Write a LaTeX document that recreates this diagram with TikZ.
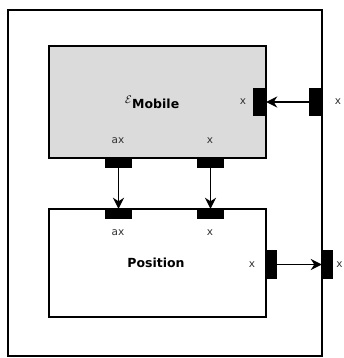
\documentclass[tikz,border=0pt]{standalone}
\usepackage{fontspec}
\setmainfont{DejaVu Sans}
\usetikzlibrary{arrows.meta}
\begin{document}
\begin{tikzpicture}[x=1pt,y=-1pt,
  box/.style={draw=black,line width=2.6pt,inner sep=0pt,rectangle},
  port/.style={fill=black,draw=none,inner sep=0pt,rectangle},
  hport/.style={port,minimum width=27pt,minimum height=10pt},
  vport/.style={port,minimum width=13pt,minimum height=28pt},
  oport/.style={port,minimum width=11pt,minimum height=29pt},
  lbl/.style={font=\fontsize{10.5}{12}\selectfont,text=black!80,inner sep=0pt},
  title/.style={font=\fontsize{12.5}{14}\selectfont\bfseries,inner sep=0pt},
  conn/.style={line width=1.8pt,-{Stealth[length=11pt,width=11pt,inset=3.5pt]}}]
\useasboundingbox (0,0) rectangle (344,358);
\node[box,minimum width=314pt,minimum height=346pt] (outer) at (165,183) {};
\node[box,fill=black!14,minimum width=217pt,minimum height=112pt] (mobile) at (157.5,102) {};
\node[box,fill=white,minimum width=217pt,minimum height=108pt] (position) at (157.5,263) {};
% ports
\node[vport] (pmIn) at (259.5,102) {};
\node[vport] (poIn) at (315.5,102) {};
\node[hport] (pmAx) at (118.5,163) {};
\node[hport] (pmX) at (210.5,163) {};
\node[hport] (ppAx) at (118.5,214) {};
\node[hport] (ppX) at (210.5,214) {};
\node[oport] (ppOut) at (271.5,264.5) {};
\node[oport] (poOut) at (327.5,264.5) {};
% titles
\node[title,anchor=west] (mt) at (132,104) {Mobile};
\node[inner sep=0pt,anchor=south east,font=\fontsize{11}{12}\selectfont] (eps) at ([yshift=-5pt]mt.north west) {$\mathcal{E}$};
\node[title] (pt) at (156,263) {Position};
% labels
\node[lbl] (l1) at (243,102) {x};
\node[lbl] (l2) at (338,102) {x};
\node[lbl] (l3) at (118,141) {ax};
\node[lbl] (l4) at (210,141) {x};
\node[lbl] (l5) at (118,233) {ax};
\node[lbl] (l6) at (210,233) {x};
\node[lbl] (l7) at (252,265) {x};
\node[lbl] (l8) at (339.5,265) {x};
% connectors
\draw[conn] (poIn.west) -- (pmIn.east);
\draw[conn] (pmAx.south) -- (ppAx.north);
\draw[conn] (pmX.south) -- (ppX.north);
\draw[conn] (ppOut.east) -- (poOut.west);
\end{tikzpicture}
\end{document}
